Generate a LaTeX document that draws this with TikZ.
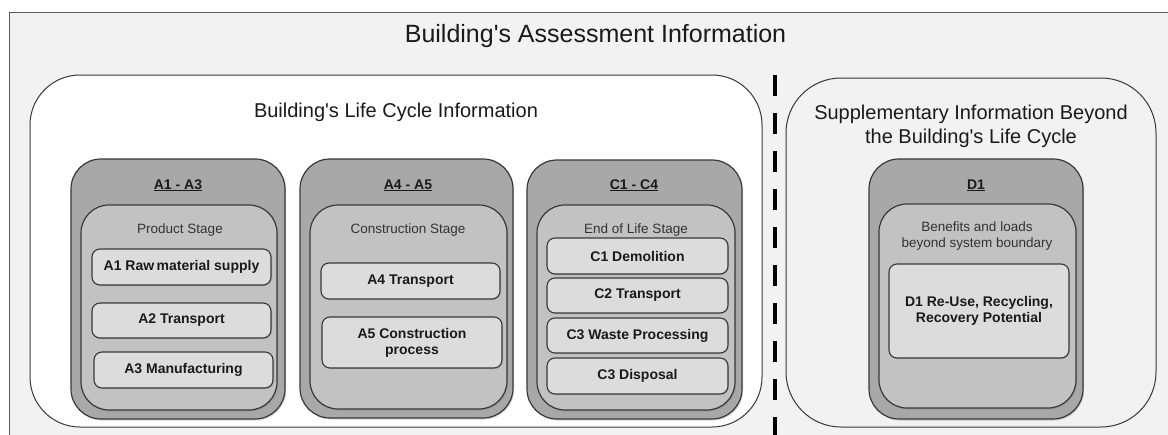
\documentclass[tikz,border=0pt]{standalone}
\usepackage{fontspec}
\setmainfont{Liberation Sans}
\usetikzlibrary{shadows}
\definecolor{bgray}{HTML}{F2F2F2}
\definecolor{colgray}{HTML}{A8A8A8}
\definecolor{stagegray}{HTML}{C2C2C2}
\definecolor{itemgray}{HTML}{DCDCDC}
\definecolor{edge}{HTML}{383838}
\definecolor{txt}{HTML}{1A1A1A}
\definecolor{subtxt}{HTML}{333333}
\newcommand{\apo}{\textquotesingle}
\begin{document}
\begin{tikzpicture}[x=1pt,y=-1pt,
  boxbase/.style={draw=edge, inner sep=0pt, outer sep=0pt},
  framebox/.style={boxbase, draw=black!65, line width=0.9pt, fill=bgray},
  lifebox/.style={boxbase, line width=1pt, fill=white, rounded corners=50pt},
  suppbox/.style={boxbase, line width=1pt, fill=bgray, rounded corners=55pt},
  colbox/.style={boxbase, line width=1.2pt, fill=colgray, rounded corners=30pt,
    drop shadow={shadow xshift=1.2pt, shadow yshift=-1.5pt, opacity=0.3}},
  stagebox/.style={boxbase, line width=1.2pt, fill=stagegray, rounded corners=28pt,
    drop shadow={shadow xshift=1.2pt, shadow yshift=-1.5pt, opacity=0.3}},
  itembox/.style={boxbase, line width=1.1pt, fill=itemgray, rounded corners=8pt,
    text=txt, align=center, font=\fontsize{14}{16}\selectfont\bfseries,
    drop shadow={shadow xshift=1pt, shadow yshift=-1.2pt, opacity=0.3}},
  bigtitle/.style={anchor=base, text=txt, font=\fontsize{25}{28}\selectfont},
  sectitle/.style={anchor=base, text=txt, font=\fontsize{20}{24}\selectfont},
  coltitle/.style={anchor=base, text=txt, font=\fontsize{14}{16}\selectfont\bfseries},
  stagelabel/.style={anchor=base, text=subtxt, font=\fontsize{13.5}{16}\selectfont},
  divider/.style={line width=4pt, draw=black, dash pattern=on 21pt off 17pt}
]
\useasboundingbox (0,0) rectangle (1168,434);
\clip (0,0) rectangle (1168,434);
\fill[white] (0,0) rectangle (1168,434);

% outer frame
\node[framebox, minimum width=1191pt, minimum height=448pt] (outer) at (604.5,236) {};
\node[bigtitle] (maintitle) at (595.5,42) {Building\apo s Assessment Information};

% life cycle box
\node[lifebox, minimum width=732pt, minimum height=352pt] (life) at (396,251) {};
\node[sectitle] (lifetitle) at (396,117) {Building\apo s Life Cycle Information};

% divider
\coordinate (dtop) at (775,75);
\coordinate (dbot) at (775,440);
\draw[divider] (dtop) -- (dbot);

% supplementary box
\node[suppbox, minimum width=370pt, minimum height=349pt] (supp) at (971,252.5) {};
\node[sectitle] (supptitleA) at (971,119) {Supplementary Information Beyond};
\node[sectitle] (supptitleB) at (971,143) {the Building\apo s Life Cycle};

% columns
\node[colbox, minimum width=214pt, minimum height=260pt] (colA) at (178,289) {};
\node[colbox, minimum width=213pt, minimum height=259pt] (colB) at (406.5,288.5) {};
\node[colbox, minimum width=215pt, minimum height=259pt] (colC) at (634.5,289.5) {};
\node[colbox, minimum width=214pt, minimum height=260pt] (colD) at (976,289) {};

\node[coltitle] (tA) at (178,189) {\underline{A1 - A3}};
\node[coltitle] (tB) at (408,189) {\underline{A4 - A5}};
\node[coltitle] (tC) at (634,189) {\underline{C1 - C4}};
\node[coltitle] (tD) at (976,189) {\underline{D1}};

% stages
\node[stagebox, minimum width=196pt, minimum height=205pt] (stA) at (179,307.5) {};
\node[stagebox, minimum width=197pt, minimum height=204pt] (stB) at (408.5,307) {};
\node[stagebox, minimum width=198pt, minimum height=205pt] (stC) at (636,307.5) {};
\node[stagebox, minimum width=197pt, minimum height=204pt] (stD) at (977.5,306) {};

\node[stagelabel] (lA) at (180,233) {Product Stage};
\node[stagelabel] (lB) at (408,233) {Construction Stage};
\node[stagelabel] (lC) at (636,233) {End of Life Stage};
\node[stagelabel] (lDa) at (977,231) {Benefits and loads};
\node[stagelabel] (lDb) at (977,247) {beyond system boundary};

% items
\node[itembox, minimum width=179pt, minimum height=36pt] (a1) at (181.5,267) {A1 Raw\hspace{-1.5pt} material supply};
\node[itembox, minimum width=179pt, minimum height=35pt] (a2) at (181.5,320.5) {A2 Transport};
\node[itembox, minimum width=179pt, minimum height=36pt] (a3) at (183.5,370) {A3 Manufacturing};

\node[itembox, minimum width=179pt, minimum height=36pt] (a4) at (410.5,281) {A4 Transport};
\node[itembox, minimum width=180pt, minimum height=51pt] (a5) at (412,342.5) {A5 Construction\\process};

\node[itembox, minimum width=181pt, minimum height=36pt] (c1) at (637.5,256) {C1 Demolition};
\node[itembox, minimum width=181pt, minimum height=35pt] (c2) at (637.5,295.5) {C2 Transport};
\node[itembox, minimum width=181pt, minimum height=35pt] (c3) at (637.5,335.5) {C3 Waste Processing};
\node[itembox, minimum width=181pt, minimum height=36pt] (c4) at (637.5,376) {C3 Disposal};

\node[itembox, minimum width=180pt, minimum height=94pt] (d1) at (979,311) {D1 Re-Use, Recycling,\\Recovery Potential};
\end{tikzpicture}
\end{document}
